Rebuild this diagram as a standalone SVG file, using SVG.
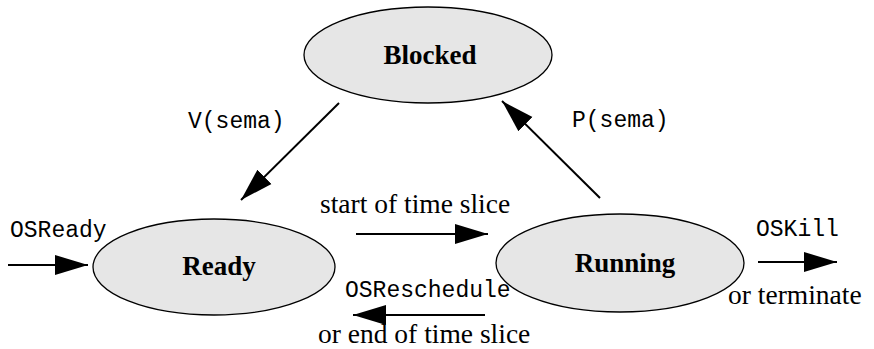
<svg xmlns="http://www.w3.org/2000/svg" width="874" height="349" viewBox="0 0 874 349">
<style>
.node ellipse{fill:#e6e6e6;stroke:#000;stroke-width:1.3}
.nlabel{font-family:"Liberation Serif","Times New Roman",serif;font-weight:bold;font-size:27px;text-anchor:middle;fill:#000}
.mono{font-family:"Liberation Mono","Courier New",monospace;font-size:23px;fill:#000}
.serif{font-family:"Liberation Serif","Times New Roman",serif;font-size:27.5px;fill:#000}
.edge{stroke:#000;stroke-width:2;fill:none;marker-end:url(#ah)}
</style>
<defs>
<marker id="ah" markerUnits="userSpaceOnUse" markerWidth="34" markerHeight="22" refX="33" refY="11" orient="auto">
<path d="M0,1 L33,11 L0,21 z" fill="#000"/>
</marker>
</defs>
<rect width="874" height="349" fill="#fff"/>
<g id="blocked" class="node">
<ellipse cx="428" cy="55" rx="124" ry="48"/>
<text class="nlabel" x="430" y="64">Blocked</text>
</g>
<g id="ready" class="node">
<ellipse cx="214" cy="267" rx="121" ry="48"/>
<text class="nlabel" x="219" y="275">Ready</text>
</g>
<g id="running" class="node">
<ellipse cx="620" cy="263" rx="124" ry="49"/>
<text class="nlabel" x="625" y="272">Running</text>
</g>
<g id="connectors">
<path class="edge" d="M339,103 L241,200"/>
<path class="edge" d="M600,198 L502,101"/>
<path class="edge" d="M8,265 L88,265"/>
<path class="edge" d="M356,234 L488,234"/>
<path class="edge" d="M485,315 L353,315"/>
<path class="edge" d="M758,262 L837,262"/>
</g>
<g id="labels">
<text class="mono" x="188" y="128">V(sema)</text>
<text class="mono" x="572" y="127">P(sema)</text>
<text class="mono" x="10" y="237">OSReady</text>
<text class="serif" x="320" y="213">start of time slice</text>
<text class="mono" x="345" y="297">OSReschedule</text>
<text class="serif" x="318" y="343">or end of time slice</text>
<text class="mono" x="756" y="236">OSKill</text>
<text class="serif" x="728" y="304">or terminate</text>
</g>
</svg>
